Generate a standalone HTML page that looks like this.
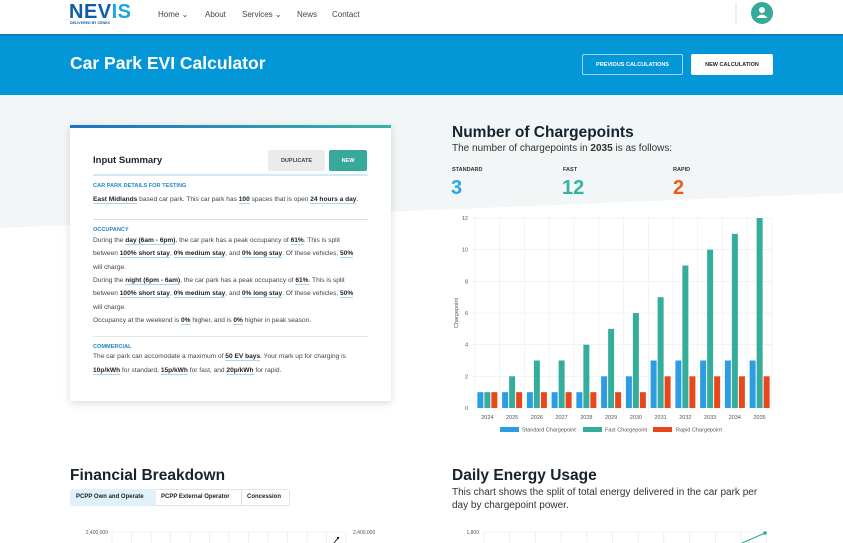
<!DOCTYPE html>
<html><head><meta charset="utf-8">
<style>
*{margin:0;padding:0;box-sizing:border-box}
body{width:843px;height:543px;overflow:hidden;background:#fff;font-family:"Liberation Sans",sans-serif;position:relative;color:#333}
.a{position:absolute;white-space:nowrap}
.btn{display:flex;align-items:center;justify-content:center}
.nav{font-size:8px;color:#444;top:10px}
.h2{font-weight:bold;font-size:15.5px;color:#14232e}
.p{font-size:6.6px;color:#444}
.p b{color:#222;border-bottom:1px solid #a8d8f0}
.sec{font-size:5.6px;color:#1f87c9;font-weight:bold}
.lbl{font-size:5.5px;font-weight:bold;color:#333}
.big{font-size:20px;font-weight:bold}
</style></head><body>
<svg class="a" style="left:0;top:0" width="843" height="543">
<polygon points="0,95 843,95 843,193 0,228" fill="#f3f6f7"/>
<rect x="0" y="35" width="843" height="60" fill="#0397d8"/>
<rect x="0" y="34" width="843" height="2" fill="#0a82bd"/>
<line x1="736" y1="3" x2="736" y2="24" stroke="#ddd"/>
<circle cx="762" cy="13" r="11" fill="#36a99a"/>
<circle cx="762" cy="10" r="3" fill="#fff"/>
<path d="M756.5 18 Q762 11 767.5 18 Z" fill="#fff"/>
</svg>
<div class="a" style="left:69px;top:1px;font-size:20px;font-weight:900;color:#0e5da5;letter-spacing:0.5px">NEV<span style="color:#1ea3e2">IS</span></div>
<div class="a" style="left:70px;top:21px;font-size:3.6px;font-weight:bold;color:#0e5da5">DELIVERED BY CENEX</div>
<div class="a nav" style="left:158px">Home ⌄</div>
<div class="a nav" style="left:205px">About</div>
<div class="a nav" style="left:242px">Services ⌄</div>
<div class="a nav" style="left:297px">News</div>
<div class="a nav" style="left:332px">Contact</div>
<div class="a" style="left:70px;top:53px;font-size:17.5px;font-weight:bold;color:#fff">Car Park EVI Calculator</div>
<div class="a btn" style="left:582px;top:54px;width:101px;height:21px;border:1px solid #9fd6f2;border-radius:2px;color:#fff;font-size:5.5px;font-weight:bold">PREVIOUS CALCULATIONS</div>
<div class="a btn" style="left:691px;top:54px;width:82px;height:21px;background:#fff;border-radius:2px;color:#222;font-size:5.5px;font-weight:bold">NEW CALCULATION</div>

<div class="a" style="left:70px;top:125px;width:321px;height:276px;background:#fff;box-shadow:0 2px 8px rgba(0,0,0,0.15)">
<div style="height:3px;background:linear-gradient(90deg,#1d72c2,#37b3a6)"></div></div>
<div class="a" style="left:93px;top:155px;font-size:9.5px;font-weight:bold;color:#1a2430">Input Summary</div>
<div class="a btn" style="left:268px;top:150px;width:57px;height:21px;background:#e9ebed;border-radius:2px;font-size:5.5px;font-weight:bold;color:#444">DUPLICATE</div>
<div class="a btn" style="left:329px;top:150px;width:38px;height:21px;background:#36a99a;border-radius:2px;font-size:5.5px;font-weight:bold;color:#fff">NEW</div>
<div class="a" style="left:93px;top:174px;width:275px;height:2px;background:#cfeaf6"></div>
<div class="a sec" style="left:93px;top:183px">CAR PARK DETAILS FOR TESTING</div>
<div class="a p" style="left:93px;top:196px"><b>East Midlands</b> based car park. This car park has <b>100</b> spaces that is open <b>24 hours a day</b>.</div>
<div class="a" style="left:93px;top:219px;width:275px;height:1px;background:#ddd"></div>
<div class="a sec" style="left:93px;top:227px">OCCUPANCY</div>
<div class="a p" style="left:93px;top:237px">During the <b>day (6am - 6pm)</b>, the car park has a peak occupancy of <b>61%</b>. This is split</div>
<div class="a p" style="left:93px;top:250px">between <b>100% short stay</b>, <b>0% medium stay</b>, and <b>0% long stay</b>. Of these vehicles, <b>50%</b></div>
<div class="a p" style="left:93px;top:264px">will charge.</div>
<div class="a p" style="left:93px;top:277px">During the <b>night (6pm - 6am)</b>, the car park has a peak occupancy of <b>61%</b>. This is split</div>
<div class="a p" style="left:93px;top:290px">between <b>100% short stay</b>, <b>0% medium stay</b>, and <b>0% long stay</b>. Of these vehicles, <b>50%</b></div>
<div class="a p" style="left:93px;top:304px">will charge.</div>
<div class="a p" style="left:93px;top:317px">Occupancy at the weekend is <b>0%</b> higher, and is <b>0%</b> higher in peak season.</div>
<div class="a" style="left:93px;top:336px;width:275px;height:1px;background:#e5e5e5"></div>
<div class="a sec" style="left:93px;top:344px">COMMERCIAL</div>
<div class="a p" style="left:93px;top:353px">The car park can accomodate a maximum of <b>50 EV bays</b>. Your mark up for charging is</div>
<div class="a p" style="left:93px;top:367px"><b>10p/kWh</b> for standard, <b>15p/kWh</b> for fast, and <b>20p/kWh</b> for rapid.</div>

<div class="a h2" style="left:452px;top:124px">Number of Chargepoints</div>
<div class="a" style="left:452px;top:143px;font-size:10px;color:#333">The number of chargepoints in <b>2035</b> is as follows:</div>
<div class="a lbl" style="left:452px;top:167px">STANDARD</div>
<div class="a lbl" style="left:563px;top:167px">FAST</div>
<div class="a lbl" style="left:673px;top:167px">RAPID</div>
<div class="a big" style="left:451px;top:177px;color:#27a6e6">3</div>
<div class="a big" style="left:562px;top:177px;color:#37b3a6">12</div>
<div class="a big" style="left:673px;top:177px;color:#ec5a1a">2</div>

<svg class="a" style="left:0;top:0" width="843" height="543" id="ch" font-family="Liberation Sans" font-size="5.5" fill="#555"></svg>

<div class="a h2" style="left:70px;top:467px">Financial Breakdown</div>
<div class="a" style="left:70px;top:489px;width:220px;height:17px;border:1px solid #e3e3e3;border-radius:3px;background:#fff"></div>
<div class="a" style="left:70px;top:489px;width:86px;height:17px;background:#e1f1fb;border-radius:3px 0 0 3px"></div>
<div class="a" style="left:241px;top:489px;width:1px;height:17px;background:#e3e3e3"></div>
<div class="a" style="left:76px;top:494px;font-size:6px;font-weight:bold;color:#222">PCPP Own and Operate</div>
<div class="a" style="left:161px;top:494px;font-size:6px;font-weight:bold;color:#222">PCPP External Operator</div>
<div class="a" style="left:247px;top:494px;font-size:6px;font-weight:bold;color:#222">Concession</div>
<div class="a h2" style="left:452px;top:467px">Daily Energy Usage</div>
<div class="a" style="left:452px;top:486px;font-size:10px;color:#333;line-height:13px">This chart shows the split of total energy delivered in the car park per<br>day by chargepoint power.</div>
<script>
var s='',ns=[1,1,1,1,1,2,2,3,3,3,3,3],nf=[1,2,3,3,4,5,6,7,9,10,11,12],nr=[1,1,1,1,1,1,1,2,2,2,2,2];
var x0=475,x1=772,y0=408,k=15.83,cw=(x1-x0)/12;
for(var i=0;i<=6;i++){var y=y0-i*2*k;s+='<line x1="'+(x0-3)+'" x2="'+x1+'" y1="'+y+'" y2="'+y+'" stroke="#ececec" stroke-width="0.6"/>';s+='<text x="'+(x0-7)+'" y="'+(y+2)+'" text-anchor="end">'+(i*2)+'</text>';}
for(var i=0;i<=12;i++){var x=x0+i*cw;s+='<line x1="'+x+'" x2="'+x+'" y1="218" y2="'+(y0+4)+'" stroke="#ececec" stroke-width="0.6"/>';}
var yrs=2024;
for(var i=0;i<12;i++){var c=x0+i*cw+cw/2;
[[ns[i],'#2c9de3',-7],[nf[i],'#35ad9c',0],[nr[i],'#e8471c',7]].forEach(function(b){var h=b[0]*k;s+='<rect x="'+(c+b[2]-3)+'" y="'+(y0-h)+'" width="6" height="'+h+'" fill="'+b[1]+'"/>';});
s+='<text x="'+c+'" y="419" text-anchor="middle">'+(yrs+i)+'</text>';}
s+='<text transform="translate(458,313) rotate(-90)" text-anchor="middle">Chargepoint</text>';
s+='<rect x="500" y="427" width="19" height="5" fill="#2c9de3"/><text x="522" y="431.5">Standard Chargepoint</text>';
s+='<rect x="583" y="427" width="19" height="5" fill="#35ad9c"/><text x="605" y="431.5">Fast Chargepoint</text>';
s+='<rect x="653" y="427" width="19" height="5" fill="#e8471c"/><text x="676" y="431.5">Rapid Chargepoint</text>';
s+='<text x="108" y="534" text-anchor="end" font-size="5">2,400,000</text><text x="353" y="534" font-size="5">2,400,000</text>';
s+='<line x1="112" x2="346" y1="532" y2="532" stroke="#eee" stroke-width="0.6"/>';
for(var i=0;i<13;i++){var x=112+i*19.5;s+='<line x1="'+x+'" x2="'+x+'" y1="532" y2="543" stroke="#e5e5e5" stroke-width="0.6"/>';}
s+='<line x1="334" y1="543" x2="338" y2="538" stroke="#222" stroke-width="1"/><circle cx="338" cy="538" r="1.2" fill="#222"/>';
s+='<text x="479" y="534" text-anchor="end" font-size="5">1,800</text><line x1="483" x2="766" y1="532" y2="532" stroke="#eee" stroke-width="0.6"/>';
for(var i=0;i<12;i++){var x=484+i*25.7;s+='<line x1="'+x+'" x2="'+x+'" y1="532" y2="543" stroke="#e5e5e5" stroke-width="0.6"/>';}
s+='<line x1="742" y1="543" x2="765" y2="533" stroke="#35ad9c" stroke-width="1.2"/><circle cx="765" cy="533" r="1.8" fill="#35ad9c"/>';
document.getElementById('ch').innerHTML=s;
</script>
</body></html>
